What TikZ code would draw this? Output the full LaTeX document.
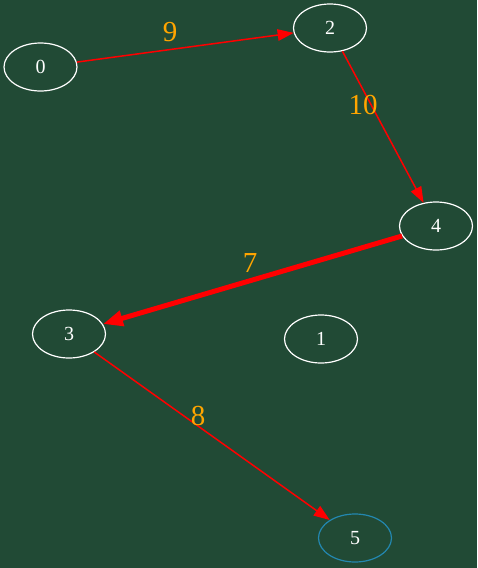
\documentclass[tikz,border=0pt]{standalone}
\usepackage{fontspec}
\setmainfont{Liberation Serif}
\usetikzlibrary{shapes.geometric}
\usetikzlibrary{arrows.meta}

\definecolor{boardgreen}{RGB}{33,74,53}
\definecolor{labelorange}{RGB}{255,165,0}
\definecolor{sinkblue}{RGB}{35,135,175}

\tikzset{
	vertex/.style={ellipse, draw=white, line width=1.2pt, minimum width=73pt, minimum height=48pt, inner sep=0pt, text=white, font=\fontsize{20}{20}\selectfont},
	arc/.style={draw=red, line width=1.5pt, -{Triangle[length=16pt,width=11.5pt]}},
	heavyarc/.style={draw=red, line width=5pt, -{Triangle[length=20pt,width=15pt]}},
	weight/.style={text=labelorange, font=\fontsize{29}{29}\selectfont, inner sep=0pt}
}

\begin{document}
\begin{tikzpicture}[x=1pt, y=1pt]

	%background
	\fill[boardgreen] (0,0) rectangle (477,-568);
	\useasboundingbox (0,0) rectangle (477,-568);

	%vertices
	\node[vertex] (n0) at (40.5,-67) {0};
	\node[vertex] (n2) at (330,-28) {2};
	\node[vertex] (n4) at (436,-226) {4};
	\node[vertex] (n3) at (69,-334) {3};
	\node[vertex] (n1) at (321,-339) {1};
	\node[vertex, draw=sinkblue] (n5) at (355,-538) {5};

	%arcs
	\draw[arc] (n0) -- (n2);
	\draw[arc] (n2) -- (n4);
	\draw[heavyarc] (n4) -- (n3);
	\draw[arc] (n3) -- (n5);

	%weights
	\node[weight] (w9) at (170,-32) {9};
	\node[weight] (w10) at (363,-105) {10};
	\node[weight] (w7) at (250,-263) {7};
	\node[weight] (w8) at (198,-416) {8};

\end{tikzpicture}
\end{document}
